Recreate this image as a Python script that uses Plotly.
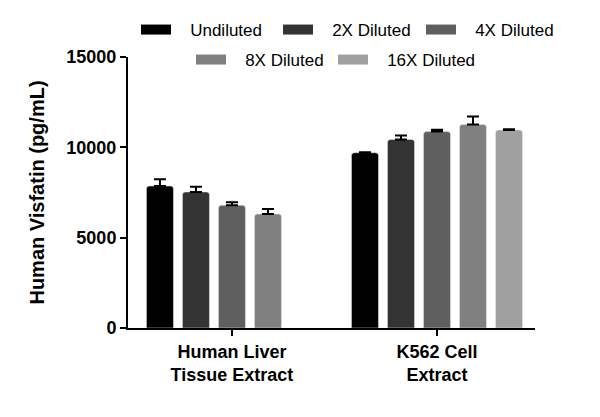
import plotly.graph_objects as go

categories = ["Human Liver<br>Tissue Extract", "K562 Cell<br>Extract"]
series_names = ["Undiluted", "2X Diluted", "4X Diluted", "8X Diluted", "16X Diluted"]
undiluted = [7860, 9700]
x2_diluted = [7530, 10440]
x4_diluted = [6790, 10870]
x8_diluted = [6310, 11270]
x16_diluted = [None, 10960]
undiluted_err = [370, 30]
x2_err = [290, 220]
x4_err = [170, 110]
x8_err = [280, 430]
x16_err = [None, 40]
colors = ["#000000", "#333333", "#5f5f5f", "#808080", "#a0a0a0"]

values = [undiluted, x2_diluted, x4_diluted, x8_diluted, x16_diluted]
errors = [undiluted_err, x2_err, x4_err, x8_err, x16_err]

# legend entry placement (symbol left edge px, row centre px)
legend_pos = [(143, 30), (285, 30), (428, 30), (198, 60), (340, 60)]

FONT = "Liberation Sans, Arial, sans-serif"
fig = go.Figure()
for i, (name, v, e, c) in enumerate(zip(series_names, values, errors, colors)):
    fig.add_trace(go.Bar(
        x=categories, y=v, name=name, marker_color=c, showlegend=False,
        error_y=dict(type="data", array=e, arrayminus=[0, 0], symmetric=False,
                     color="black", thickness=2, width=6),
    ))

legend_layout = {}
for i, (name, c) in enumerate(zip(series_names, colors)):
    key = "legend" if i == 0 else f"legend{i + 1}"
    fig.add_trace(go.Scatter(
        x=[None], y=[None], mode="lines", name="\u00a0\u00a0\u00a0" + name,
        line=dict(color=c, width=10), legend=key,
    ))
    px, py = legend_pos[i]
    legend_layout[key] = dict(
        orientation="h", xref="container", yref="container", yanchor="middle",
        xanchor="left", x=(px - 7) / 600, y=1 - py / 417,
        font=dict(size=17, family=FONT), itemwidth=30, bgcolor="rgba(0,0,0,0)")

fig.update_layout(
    width=600, height=417,
    margin=dict(l=128, r=65, t=57, b=89, autoexpand=False),
    paper_bgcolor="white", plot_bgcolor="white",
    barmode="group", bargap=0.122, bargroupgap=0.25, barcornerradius=3,
    font=dict(family=FONT, color="black"),
    xaxis=dict(range=[-0.507, 1.478], showline=True, linecolor="black", linewidth=2,
               ticks="outside", ticklen=6, tickwidth=2, tickcolor="black",
               tickfont=dict(size=18, family=FONT, weight="bold"), showgrid=False, zeroline=False),
    yaxis=dict(range=[0, 15000], showline=True, linecolor="black", linewidth=2,
               ticks="outside", ticklen=6, tickwidth=2, tickcolor="black",
               tickvals=[0, 5000, 10000, 15000], ticktext=["0", "5000", "10000", "15000"],
               tickfont=dict(size=18, family=FONT, weight="bold"), showgrid=False, zeroline=False,
               title=dict(text="Human Visfatin (pg/mL)", font=dict(size=20, family=FONT, weight="bold"),
                          standoff=16)),
    **legend_layout,
)

fig.write_html("out.html")
